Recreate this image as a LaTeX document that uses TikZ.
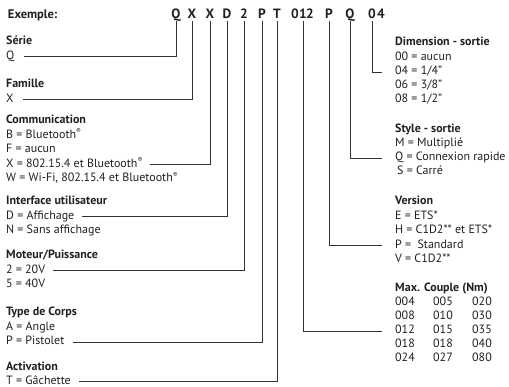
\documentclass[tikz,border=0pt]{standalone}
\usepackage{fontspec}
\setmainfont{PT Sans}
\usetikzlibrary{positioning}
\definecolor{txt}{HTML}{231F20}
\tikzset{
  code/.style={anchor=base, font=\bfseries\fontsize{13.5}{15}\selectfont, text=txt,
    text height=9pt, text depth=0pt, inner sep=1pt, outer sep=2pt},
  head/.style={anchor=mid west, font=\bfseries\fontsize{12}{14}\selectfont, text=txt, inner sep=0pt},
  item/.style={anchor=mid west, font=\fontsize{12}{14}\selectfont, text=txt, inner sep=0pt},
  conn/.style={draw=black!80, line width=0.7pt},
}
\newcommand{\regmark}{\textsuperscript{\scriptsize®}}

\begin{document}
\begin{tikzpicture}[x=1pt, y=-1pt]
    \useasboundingbox (0,0) rectangle (509,386);

    % Exemple
    \node[code, anchor=base west, inner sep=0pt, font=\bfseries\fontsize{12.5}{15}\selectfont]
        (exemple) at (6,18) {Exemple:};
    \foreach \n/\t/\x in {cq/Q/176, cx/X/192, cxx/X/210, cd/D/227, cdeux/2/244,
        cp/P/262, ct/T/277, czero/0/295, cun/1/303, cdeuxb/2/310,
        cpp/P/329, cqq/Q/350, czz/0/372, cquatre/4/381} {
        \node[code] (\n) at (\x,18) {\t};
    }

    % Colonne gauche
    \node[head] (serie) at (6,42) {Série};
    \node[item] (serieq) at (6,56.5) {Q};
    \node[head] (famille) at (6,85) {Famille};
    \node[item] (famx) at (6,99.5) {X};
    \node[head] (comm) at (6,121) {Communication};
    \node[item] (commb) at (6,135.5) {B = Bluetooth\regmark};
    \node[item] (commf) at (6,150) {F = aucun};
    \node[item] (commx) at (6,164.5) {X = 802.15.4 et Bluetooth\regmark};
    \node[item] (commw) at (6,179) {W = Wi-Fi, 802.15.4 et Bluetooth\regmark};
    \node[head] (interf) at (6,202) {Interface utilisateur};
    \node[item] (intd) at (6,216.5) {D = Affichage};
    \node[item] (intn) at (6,231) {N = Sans affichage};
    \node[head] (moteur) at (6,256) {Moteur/Puissance};
    \node[item] (mot2) at (6,270.5) {2 = 20V};
    \node[item] (mot5) at (6,285) {5 = 40V};
    \node[head] (corps) at (6,313) {Type de Corps};
    \node[item] (corpsa) at (6,327.5) {A = Angle};
    \node[item] (corpsp) at (6,342) {P = Pistolet};
    \node[head] (activ) at (6,368) {Activation};
    \node[item] (activt) at (6,381.5) {T = Gâchette};

    % Colonne droite
    \node[head] (dim) at (395,43) {Dimension - sortie};
    \foreach \n/\t/\y in {dimzz/{00 = aucun}/58, dimqu/{04 = 1/4"}/72,
        dimsi/{06 = 3/8"}/86, dimhu/{08 = 1/2"}/100} {
        \node[item] (\n) at (395,\y) {\t};
    }
    \node[head] (style) at (395,130) {Style - sortie};
    \node[item] (stylem) at (395,144) {M = Multiplié};
    \node[item] (styleq) at (395,158) {Q = Connexion rapide};
    \node[item] (styles) at (397,172) {S = Carré};
    \node[head] (version) at (395,202) {Version};
    \node[item] (vere) at (395,216.5) {E = ETS*};
    \node[item] (verh) at (395,231) {H = C1D2** et ETS*};
    \node[item] (verp) at (395,245.5) {P = \ Standard};
    \node[item] (verv) at (395,260) {V = C1D2**};
    \node[head] (couple) at (395,289) {Max. Couple (Nm)};
    \foreach \n/\a/\b/\c/\y in {ma/004/005/020/303, mb/008/010/030/317, mc/012/015/035/331,
        md/018/018/040/345, me/024/027/080/359} {
        \node[item] (\n1) at (395,\y) {\a};
        \node[item] (\n2) at (433,\y) {\b};
        \node[item] (\n3) at (472,\y) {\c};
    }

    % Liaisons
    \draw[conn] (cq.south) |- ([xshift=9pt]serieq.mid east);
    \draw[conn] (cx.south) |- ([xshift=9pt]famx.mid east);
    \draw[conn] (cxx.south) |- ([xshift=7pt]commx.mid east);
    \draw[conn] (cd.south) |- ([xshift=7pt]intd.mid east);
    \draw[conn] (cdeux.south) |- ([xshift=8pt]mot2.mid east);
    \draw[conn] (cp.south) |- ([xshift=8pt]corpsp.mid east);
    \draw[conn] (ct.south) |- ([xshift=8pt]activt.mid east);
    \draw[conn] (cun.south) |- ([xshift=-13pt]mc1.mid west);
    \draw[conn] (cpp.south) |- ([xshift=-13pt]verp.mid west);
    \draw[conn] (cqq.south) |- ([xshift=-13pt]styleq.mid west);
    \draw[conn] (czz.south) |- ([xshift=-13pt]dimqu.mid west);
\end{tikzpicture}
\end{document}
